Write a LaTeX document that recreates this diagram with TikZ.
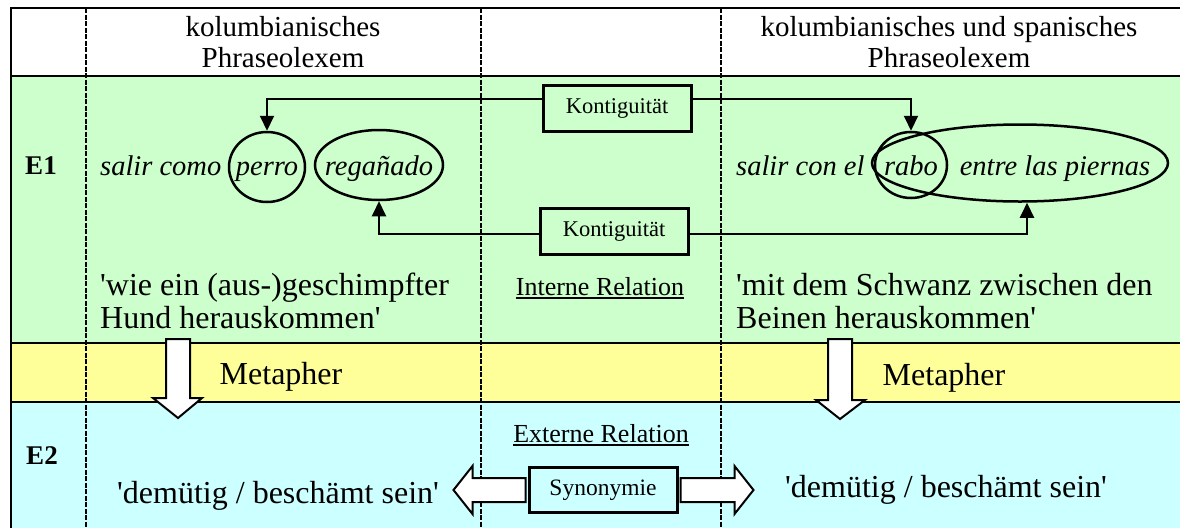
\documentclass[tikz,border=0pt]{standalone}
\usepackage{fontspec}
\setmainfont{Liberation Serif}
\usetikzlibrary{shapes.geometric,arrows.meta,calc}

\definecolor{rowgreen}{HTML}{CCFFCC}
\definecolor{rowyellow}{HTML}{FFFF99}
\definecolor{rowcyan}{HTML}{CCFFFF}

\newcommand{\ulined}[1]{\setbox0\hbox{#1}\rlap{\rule[-4pt]{\wd0}{2pt}}\box0}
\newcommand{\q}{\textquotesingle}

\begin{document}
\begin{tikzpicture}[x=1pt,y=-1pt,
					grid/.style={line width=2.2pt},
					colsep/.style={line width=2.2pt,dash pattern=on 5pt off 1.5pt},
					word/.style={anchor=base,inner sep=0pt,font=\fontsize{28.5}{34}\selectfont\itshape},
					ring/.style={draw,ellipse,line width=2.5pt,inner sep=0pt},
					kbox/.style={draw,line width=3pt,minimum width=148pt,minimum height=46pt,font=\fontsize{22.5}{26}\selectfont},
					conn/.style={line width=2pt,-{Triangle[width=14pt,length=15pt]}},
					gloss/.style={anchor=west,inner sep=0pt,align=left,font=\fontsize{32}{33}\selectfont},
					fat/.style={draw,line width=2pt,fill=white,line join=miter}]
	\clip (0,0) rectangle (1180,528);
	% rows
	\fill[white] (11,8) rectangle (1180,76);
	\fill[rowgreen] (11,76) rectangle (1180,343);
	\fill[rowyellow] (11,343) rectangle (1180,402);
	\fill[rowcyan] (11,402) rectangle (1180,528);
	\draw[grid] (11,528) -- (11,8) -- (1180,8);
	\foreach \y in {76,343,402}
		\draw[grid] (11,\y) -- (1180,\y);
	\foreach \x in {86,481,721}
		\draw[colsep] (\x,8) -- (\x,528);

	% header
	\node[align=center,font=\fontsize{29}{31.5}\selectfont] (hleft) at (283,42) {kolumbianisches\\Phraseolexem};
	\node[align=center,font=\fontsize{29}{31.5}\selectfont] (hright) at (949,42) {kolumbianisches und spanisches\\Phraseolexem};
	\node[font=\fontsize{27}{32}\selectfont\bfseries] (e1) at (41,166) {E1};
	\node[font=\fontsize{27}{32}\selectfont\bfseries] (e2) at (42,456) {E2};

	% E1: the two phrases
	\node[word,anchor=base west] (salirL) at (100,175) {salir como};
	\node[ring,minimum width=76pt,minimum height=70pt] (perro) at (267,167) {};
	\node[word] (perrotxt) at (267,175) {perro};
	\node[ring,minimum width=128pt,minimum height=70pt] (reg) at (379,165) {};
	\node[word] (regtxt) at (379,175) {regañado};
	\node[word,anchor=base west] (salirR) at (736,175) {salir con el};
	\node[ring,minimum width=72pt,minimum height=66pt] (rabo) at (911,165) {};
	\node[word] (rabotxt) at (911,175) {rabo};
	\node[ring,minimum width=296pt,minimum height=77pt] (tail) at (1020,163) {};
	\node[word] (entre) at (1055,175) {entre las piernas};

	\node[kbox,fill=rowgreen] (k1) at (617,108) {Kontiguität};
	\node[kbox,fill=rowgreen] (k2) at (614,231) {Kontiguität};
	\draw[conn] ([yshift=9pt]k1.west) -| (perro.north);
	\draw[conn] ([yshift=9pt]k1.east) -| (rabo.north);
	\draw[conn] ([yshift=-3pt]k2.west) -| (reg.south);
	\draw[conn] ([yshift=-3pt]k2.east) -| ([xshift=7pt]tail.south);

	\node[font=\fontsize{26}{30}\selectfont] (intrel) at (600,288) {\ulined{Interne Relation}};
	\node[gloss] (glossL) at (100,301) {\q wie ein (aus-)geschimpfter\\Hund herauskommen\q};
	\node[gloss] (glossR) at (736,301) {\q mit dem Schwanz zwischen den\\Beinen herauskommen\q};

	% Metapher
	\draw[fat] (166,339) -- (190,339) -- (190,398) -- (202,398) -- (178,418) -- (153,398) -- (166,398) -- cycle;
	\draw[fat] (828,339) -- (852,339) -- (852,400) -- (865,400) -- (840,419) -- (816,400) -- (828,400) -- cycle;
	\node[font=\fontsize{32}{36}\selectfont] (metL) at (281,377) {Metapher};
	\node[font=\fontsize{32}{36}\selectfont] (metR) at (944,378) {Metapher};

	% E2
	\node[font=\fontsize{26}{30}\selectfont] (extrel) at (601,435) {\ulined{Externe Relation}};
	\node[kbox,fill=rowcyan,minimum height=45pt,font=\fontsize{23.5}{27}\selectfont] (syn) at (603,490) {Synonymie};
	\node[anchor=base west,inner sep=0pt,font=\fontsize{32}{36}\selectfont] (demL) at (117,503) {\q demütig / beschämt sein\q};
	\node[anchor=base west,inner sep=0pt,font=\fontsize{32}{36}\selectfont] (demR) at (785,497) {\q demütig / beschämt sein\q};
	\draw[fat] ($(syn.west)+(-2,12)$) -- ++(-53,0) -- ++(0,12) -- ++(-19,-24) -- ++(19,-24) -- ++(0,12) -- ++(53,0) -- cycle;
	\draw[fat] ($(syn.east)+(2,12)$) -- ++(54,0) -- ++(0,12) -- ++(19,-24) -- ++(-19,-24) -- ++(0,12) -- ++(-54,0) -- cycle;
\end{tikzpicture}
\end{document}
